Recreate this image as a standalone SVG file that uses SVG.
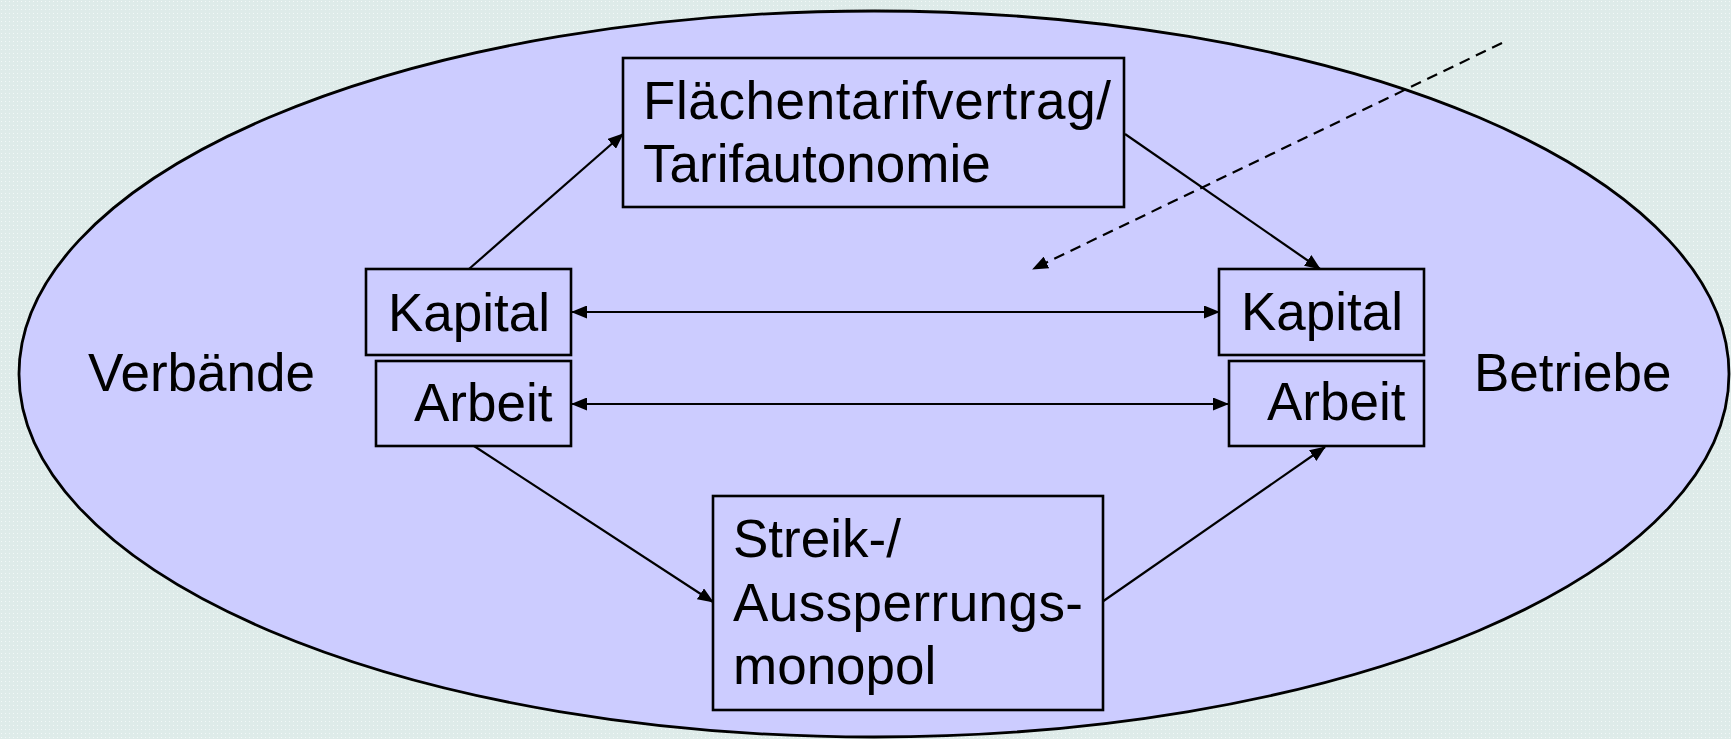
<svg xmlns="http://www.w3.org/2000/svg" width="1731" height="739" viewBox="0 0 1731 739">
  <style>
    .box { fill: #ccccff; stroke: #000; stroke-width: 2.6; }
    .lbl { font-family: "Liberation Sans", Arial, sans-serif; font-size: 53px; fill: #000; }
    .conn { stroke: #000; stroke-width: 2.2; fill: none; }
    .dash { stroke-dasharray: 11 7; }
  </style>
  <defs>
    <pattern id="dots" width="4" height="4" patternUnits="userSpaceOnUse">
      <rect width="4" height="4" fill="#deebe9"/>
      <rect x="1" y="1" width="1" height="1" fill="#f2f8f7"/>
    </pattern>
    <marker id="ah" markerUnits="userSpaceOnUse" markerWidth="16" markerHeight="13" refX="15" refY="6.5" orient="auto-start-reverse" viewBox="0 0 16 13">
      <path d="M0,0 L16,6.5 L0,13 z" fill="#000"/>
    </marker>
  </defs>
  <rect width="1731" height="739" fill="url(#dots)"/>
  <g id="ellipse">
    <ellipse cx="874" cy="374" rx="855" ry="363" fill="#ccccff" stroke="#000" stroke-width="2.8"/>
  </g>
  <g id="labels">
    <text class="lbl" x="88" y="391">Verbände</text>
    <text class="lbl" x="1474" y="391">Betriebe</text>
  </g>
  <g id="connectors">
    <line class="conn" x1="469" y1="269" x2="623" y2="134" marker-end="url(#ah)"/>
    <line class="conn" x1="1125" y1="134" x2="1320" y2="269" marker-end="url(#ah)"/>
    <line class="conn dash" x1="1502" y1="43" x2="1033" y2="269" marker-end="url(#ah)"/>
    <line class="conn" x1="572" y1="312" x2="1219" y2="312" marker-start="url(#ah)" marker-end="url(#ah)"/>
    <line class="conn" x1="572" y1="404" x2="1228" y2="404" marker-start="url(#ah)" marker-end="url(#ah)"/>
    <line class="conn" x1="474" y1="446" x2="713" y2="602" marker-end="url(#ah)"/>
    <line class="conn" x1="1102" y1="602" x2="1325" y2="447" marker-end="url(#ah)"/>
  </g>
  <g id="flaechentarif">
    <rect class="box" x="623" y="58" width="501" height="149"/>
    <text class="lbl" x="643" y="119" textLength="468">Flächentarifvertrag/</text>
    <text class="lbl" x="643" y="182">Tarifautonomie</text>
  </g>
  <g id="kapital-left">
    <rect class="box" x="366" y="269" width="205" height="86"/>
    <text class="lbl" x="388" y="331">Kapital</text>
  </g>
  <g id="arbeit-left">
    <rect class="box" x="376" y="361" width="195" height="85"/>
    <text class="lbl" x="414" y="421">Arbeit</text>
  </g>
  <g id="kapital-right">
    <rect class="box" x="1219" y="269" width="205" height="86"/>
    <text class="lbl" x="1241" y="330">Kapital</text>
  </g>
  <g id="arbeit-right">
    <rect class="box" x="1229" y="361" width="195" height="85"/>
    <text class="lbl" x="1267" y="420">Arbeit</text>
  </g>
  <g id="streik">
    <rect class="box" x="713" y="496" width="390" height="214"/>
    <text class="lbl" x="733" y="557">Streik-/</text>
    <text class="lbl" x="733" y="621" textLength="350">Aussperrungs-</text>
    <text class="lbl" x="733" y="684">monopol</text>
  </g>
</svg>
